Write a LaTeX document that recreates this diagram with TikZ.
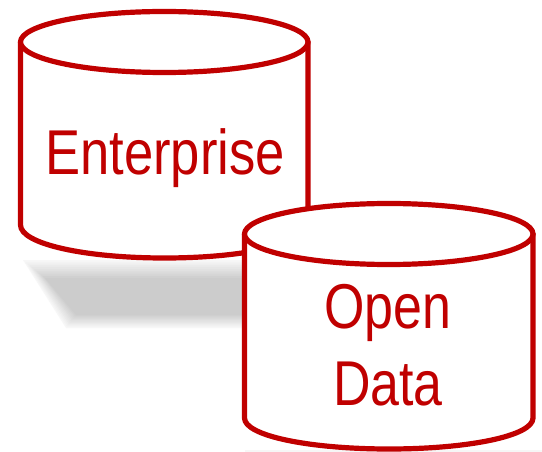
\documentclass[tikz,border=0pt]{standalone}
\usepackage{fontspec}
\setmainfont{Liberation Sans}
\definecolor{cylred}{RGB}{192,0,0}
\definecolor{shadeD}{RGB}{246,246,246}
\tikzset{
 cyl/.style={draw=cylred,line width=3.9pt,fill=white,line join=round},
 lab/.style={text=cylred,font=\fontsize{47.5}{52}\selectfont,inner sep=0pt,anchor=base}
}
\begin{document}
\begin{tikzpicture}[x=0.75pt,y=-0.75pt]
\useasboundingbox (0,0) rectangle (542,452);
\fill[white] (0,0) rectangle (542,452);
% shadow: soft edge built from nested layers
\foreach \i in {0,...,10}{
 \pgfmathsetmacro{\shd}{3+\i*1.7}
 \fill[black!\shd!white] ({23+\i*2.2},{260+\i*1.8}) -- (250,{260+\i*1.8}) -- (250,{328-\i*1.3}) -- ({66+\i*1.0},{328-\i*1.3}) -- cycle;
}
\fill[shadeD] (245,450) rectangle (542,452);
% enterprise
\draw[cyl] (20.5,42) -- (20.5,225) .. controls (20.5,244) and (85,258) .. (164.5,258) .. controls (244,258) and (308,244) .. (308,225) -- (308,42) -- cycle;
\draw[cyl] (164.25,42) ellipse[x radius=143.75,y radius=30.5];
\node[lab] (ent) at (165,175) {\scalebox{0.83}[1]{Enterprise}};
% open data
\draw[cyl] (244.5,234) -- (244.5,418) .. controls (244.5,436) and (310,449) .. (389,449) .. controls (468,449) and (533,436) .. (533,418) -- (533,234) -- cycle;
\draw[cyl] (388.75,234) ellipse[x radius=144.25,y radius=30.5];
\node[lab] (open) at (388,328) {\scalebox{0.82}[1]{Open}};
\node[lab] (data) at (388,405) {\scalebox{0.82}[1]{Data}};
\end{tikzpicture}
\end{document}
